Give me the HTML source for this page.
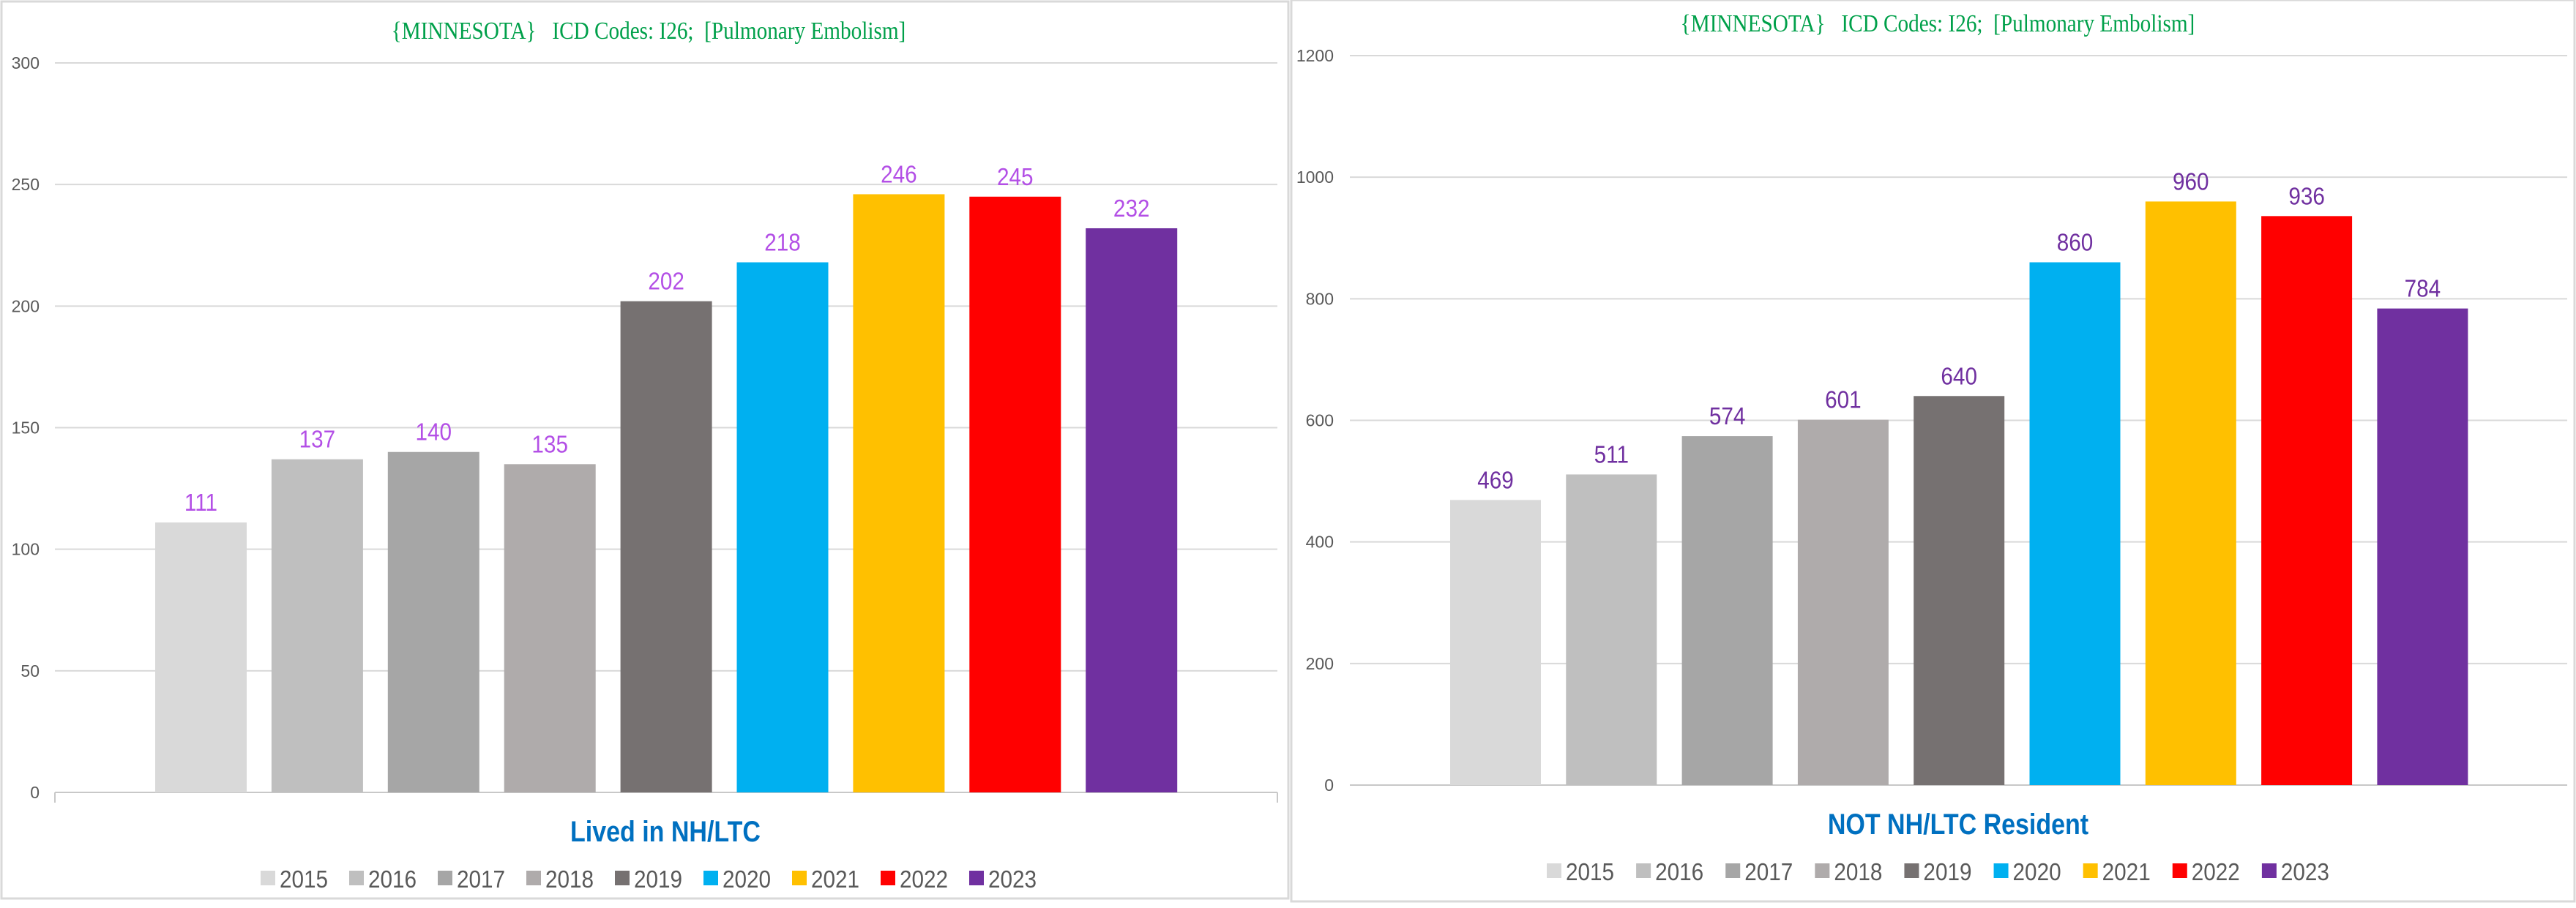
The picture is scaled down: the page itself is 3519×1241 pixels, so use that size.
<!DOCTYPE html>
<html><head><meta charset="utf-8"><style>
html,body{margin:0;padding:0;background:#fff;width:3519px;height:1241px;overflow:hidden}
svg{display:block}
text{white-space:pre}
</style></head><body>
<svg id="chart" width="3519" height="1241" viewBox="0 0 3519 1241" xmlns="http://www.w3.org/2000/svg">
<rect x="2" y="2" width="1758" height="1226" fill="#fff" stroke="#d9d9d9" stroke-width="3"/>
<rect x="1764" y="0" width="1753" height="1232" fill="#fff" stroke="#d9d9d9" stroke-width="3"/>
</svg>
<script>
const years = ["2015","2016","2017","2018","2019","2020","2021","2022","2023"];
const colors = ["#d9d9d9","#bfbfbf","#a6a6a6","#afabab","#767171","#00b0f0","#ffc000","#ff0000","#7030a0"];
const nhValues = [111,137,140,135,202,218,246,245,232];
const nhTicks = [0,50,100,150,200,250,300];
const notNhValues = [469,511,574,601,640,860,960,936,784];
const notNhTicks = [0,200,400,600,800,1000,1200];

const NS = "http://www.w3.org/2000/svg";
const svg = document.getElementById('chart');
function mk(tag, attrs, parent) {
  const e = document.createElementNS(NS, tag);
  for (const k in attrs) e.setAttribute(k, attrs[k]);
  (parent || svg).appendChild(e);
  return e;
}

function drawChart(cfg, values, ticks) {
  const g = mk('g', {});
  
  
  const maxV = ticks[ticks.length - 1];
  const y = v => cfg.y0 - (v / maxV) * (cfg.y0 - cfg.yTop);
  const x = i => cfg.bar0 + i * cfg.step;

  const t = mk('text', {x: cfg.titleX, y: cfg.titleY, 'text-anchor': 'middle', 'font-family': '"Liberation Serif", serif', 'font-size': 34, fill: '#00a04a', transform: `translate(${cfg.titleX},0) scale(0.86,1) translate(${-cfg.titleX},0)`}, g);
  t.textContent = '{MINNESOTA}   ICD Codes: I26;  [Pulmonary Embolism]';
  
  

  ticks.forEach(tv => {
    const line = mk('line', {x1: cfg.gx0, x2: cfg.gx1, y1: y(tv), y2: y(tv), stroke: tv === 0 ? '#c8c8c8' : '#d9d9d9', 'stroke-width': 2}, g);
    
    
    const lb = mk('text', {x: cfg.tickX, y: y(tv) + 8, 'text-anchor': 'end', 'font-family': '"Liberation Sans", sans-serif', 'font-size': 23, fill: '#595959'}, g);
    lb.textContent = tv;
    
    
  });
  if (cfg.axisTicks) {
    mk('line', {x1: cfg.gx0, x2: cfg.gx0, y1: cfg.y0, y2: cfg.y0 + 14, stroke: '#c8c8c8', 'stroke-width': 2}, g);
    mk('line', {x1: cfg.gx1, x2: cfg.gx1, y1: cfg.y0, y2: cfg.y0 + 14, stroke: '#c8c8c8', 'stroke-width': 2}, g);
  }

  values.forEach((v, i) => {
    const r = mk('rect', {x: x(i), y: y(v), width: cfg.bw, height: cfg.y0 - y(v), fill: colors[i]}, g);
    
    
    const lb = mk('text', {x: x(i) + cfg.bw / 2, y: y(v) - 16, 'text-anchor': 'middle', 'font-family': '"Liberation Sans", sans-serif', 'font-size': 33, fill: cfg.labelColor, transform: `translate(${x(i) + cfg.bw / 2},0) scale(0.9,1) translate(${-(x(i) + cfg.bw / 2)},0)`}, g);
    lb.textContent = v;
    
    
  });

  const at = mk('text', {x: cfg.axTitleX, y: cfg.axTitleY, 'text-anchor': 'middle', 'font-family': '"Liberation Sans", sans-serif', 'font-weight': 'bold', 'font-size': 40, fill: '#0070c0', transform: `translate(${cfg.axTitleX},0) scale(0.85,1) translate(${-cfg.axTitleX},0)`}, g);
  at.textContent = cfg.axisTitle;
  
  

  const lstep = (cfg.legEnd - cfg.legStart) / years.length;
  years.forEach((yr, i) => {
    const lx = cfg.legStart + i * lstep;
    const sw = mk('rect', {x: lx, y: cfg.legY - 23, width: 20, height: 20, fill: colors[i]}, g);
    
    
    const lt = mk('text', {x: lx + 26, y: cfg.legY, 'font-family': '"Liberation Sans", sans-serif', 'font-size': 33, fill: '#595959', transform: `translate(${lx + 26},0) scale(0.9,1) translate(${-(lx + 26)},0)`}, g);
    lt.textContent = yr;
    
    
  });
}

drawChart({id: 'lived-in-nh', y0: 1083, yTop: 86, gx0: 75, gx1: 1745, bar0: 212, step: 158.9, bw: 125, tickX: 54,
  titleX: 886, titleY: 53, labelColor: '#b34fe6', axisTitle: 'Lived in NH/LTC', axTitleX: 909, axTitleY: 1150,
  legStart: 356, legEnd: 1445, legY: 1213, axisTicks: true}, nhValues, nhTicks);

drawChart({id: 'not-nh', y0: 1073, yTop: 76, gx0: 1844, gx1: 3507, bar0: 1981, step: 158.3, bw: 124, tickX: 1822,
  titleX: 2647, titleY: 43, labelColor: '#7030a0', axisTitle: 'NOT NH/LTC Resident', axTitleX: 2675, axTitleY: 1140,
  legStart: 2113, legEnd: 3212, legY: 1203, axisTicks: false}, notNhValues, notNhTicks);
</script>
</body></html>
